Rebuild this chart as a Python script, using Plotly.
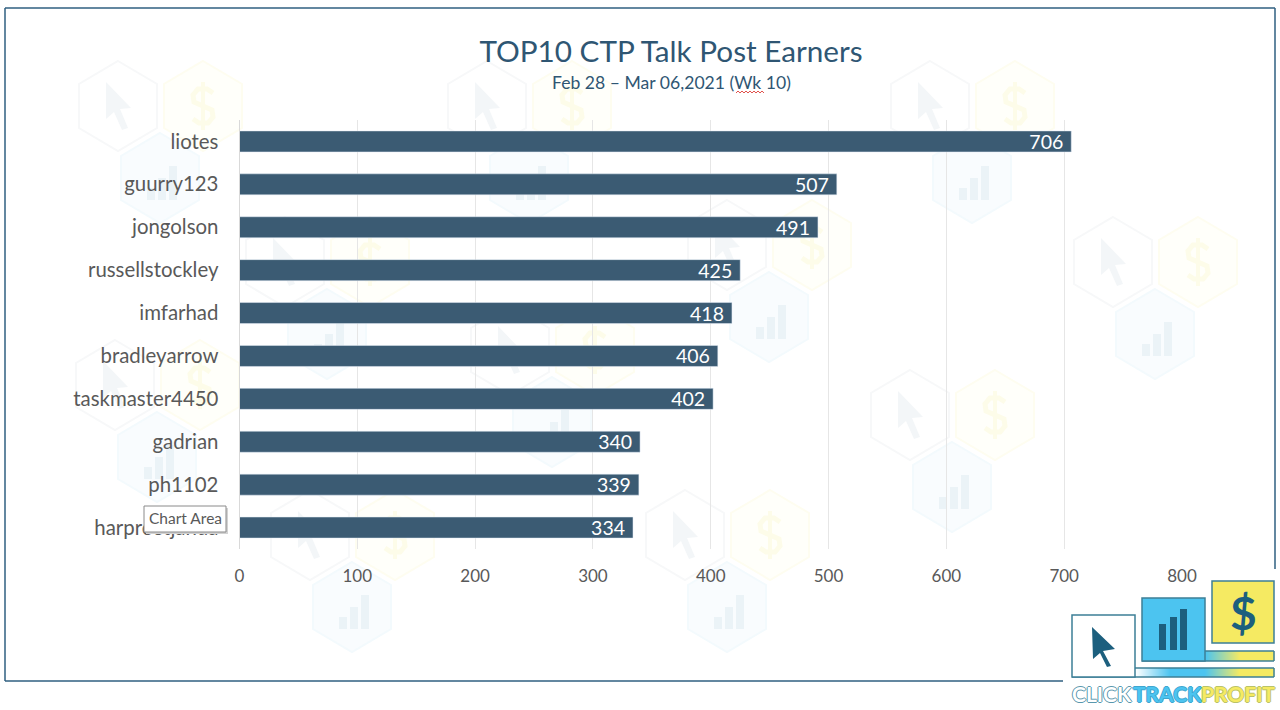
import plotly.graph_objects as go

# ---------------------------------------------------------------
# chart data
# ---------------------------------------------------------------
names = ['liotes', 'guurry123', 'jongolson', 'russellstockley', 'imfarhad',
         'bradleyarrow', 'taskmaster4450', 'gadrian', 'ph1102', 'harpreetjanda']
posts = [706, 507, 491, 425, 418, 406, 402, 340, 339, 334]
x_ticks = [0, 100, 200, 300, 400, 500, 600, 700, 800]

TITLE = 'TOP10 CTP Talk Post Earners'
SUBTITLE = 'Feb 28 – Mar 06,2021 (Wk 10)'

W, H = 1280, 710
FONT = 'Lato'
BAR_COLOR = '#3b5b73'
TITLE_COLOR = '#2f5673'
TEXT_COLOR = '#595959'
FRAME_COLOR = '#2f5f80'
LOGO_LINE = '#3d7f96'
LOGO_DARK = '#1c5f7e'
LOGO_BLUE = '#4cc4f0'
LOGO_YELLOW = '#f5ea62'

# centres of the faint watermark groups (cursor hexagon)
WATERMARKS = [(118, 106), (487, 106), (930, 106), (285, 262), (727, 245),
              (1113, 262), (510, 350), (115, 385), (910, 415), (310, 535),
              (685, 535)]


def px(x):
  return x / W


def py(y):
  return 1 - y / H


def open_path(points):
  return 'M ' + ' L '.join(f'{px(x):.5f},{py(y):.5f}' for x, y in points)


def poly(points, fill, line=None, width=0, layer='above'):
  return dict(type='path', xref='paper', yref='paper', path=open_path(points) + ' Z',
              fillcolor=fill, line=dict(color=line or fill, width=width), layer=layer)


def stroke(points, color, width, layer='above'):
  return dict(type='path', xref='paper', yref='paper', path=open_path(points),
              line=dict(color=color, width=width), layer=layer)


def box(x0, y0, x1, y1, fill, line=None, width=0, layer='above'):
  return dict(type='rect', xref='paper', yref='paper', x0=px(x0), x1=px(x1),
              y0=py(y0), y1=py(y1), fillcolor=fill,
              line=dict(color=line or fill, width=width), layer=layer)


def seg(x0, y0, x1, y1, color, width):
  return dict(type='line', xref='paper', yref='paper', x0=px(x0), x1=px(x1),
              y0=py(y0), y1=py(y1), line=dict(color=color, width=width))


def hexagon(cx, cy, fill, line):
  pts = [(cx, cy - 45), (cx + 39, cy - 22), (cx + 39, cy + 22),
         (cx, cy + 45), (cx - 39, cy + 22), (cx - 39, cy - 22)]
  return poly(pts, fill, line, 2, 'below')


def mix(c0, c1, t):
  a = [int(c0[i:i + 2], 16) for i in (1, 3, 5)]
  b = [int(c1[i:i + 2], 16) for i in (1, 3, 5)]
  return '#' + ''.join(f'{round(p + (q - p) * t):02x}' for p, q in zip(a, b))


def gradient(x0, x1, y0, y1, stops):
  # plotly shapes have no gradient fill, so stack thin slices
  out = []
  n = int(x1 - x0)
  for i in range(n):
    t = i / n * (len(stops) - 1)
    k = min(int(t), len(stops) - 2)
    out.append(box(x0 + i, y0, x0 + i + 1.3, y1, mix(stops[k], stops[k + 1], t - k)))
  return out


shapes = []

# ---------------------------------------------------------------
# watermark
# ---------------------------------------------------------------
for cx, cy in WATERMARKS:
  shapes.append(hexagon(cx, cy, '#ffffff', '#f7f8f9'))
  shapes.append(poly([(cx - 12, cy - 24), (cx + 13, cy + 2), (cx + 2, cy + 3),
                      (cx + 10, cy + 22), (cx + 4, cy + 24), (cx - 4, cy + 6),
                      (cx - 12, cy + 13)], '#f3f6f8', layer='below'))
  shapes.append(hexagon(cx + 85, cy, '#fffffa', '#fefdf0'))
  d = cx + 85
  shapes.append(stroke([(d + 10, cy - 13), (d + 4, cy - 17), (d - 5, cy - 17), (d - 10, cy - 11),
                        (d - 9, cy - 4), (d + 9, cy + 4), (d + 10, cy + 11), (d + 5, cy + 17),
                        (d - 4, cy + 17), (d - 10, cy + 13)], '#fdfce9', 5, 'below'))
  shapes.append(seg(d, cy - 24, d, cy + 24, '#fdfce9', 4) | {'layer': 'below'})
  shapes.append(hexagon(cx + 42, cy + 72, '#f9fcfe', '#f3fafd'))
  for dx, top in ((-13, 10), (-2, 0), (9, -12)):
    shapes.append(box(cx + 42 + dx, cy + 72 + top, cx + 42 + dx + 8, cy + 72 + 22,
                      '#ebf3f7', layer='below'))

# ---------------------------------------------------------------
# slide frame
# ---------------------------------------------------------------
shapes += [seg(5, 8, 1275, 8, FRAME_COLOR, 1.5), seg(5, 8, 5, 681, FRAME_COLOR, 1.5),
           seg(5, 681, 1063, 681, FRAME_COLOR, 1.5), seg(1275, 8, 1275, 569, FRAME_COLOR, 1.5)]

# ---------------------------------------------------------------
# logo
# ---------------------------------------------------------------
shapes += gradient(1135, 1274, 668, 677, ['#ffffff', LOGO_BLUE, LOGO_BLUE, LOGO_YELLOW, LOGO_YELLOW])
shapes += gradient(1205, 1274, 651, 661, [LOGO_BLUE, LOGO_YELLOW, LOGO_YELLOW])
shapes += [seg(1135, 668, 1274, 668, LOGO_LINE, 1.5), seg(1072, 677, 1274, 677, LOGO_LINE, 1.5),
           seg(1274, 668, 1274, 677, LOGO_LINE, 1.5), seg(1205, 651, 1274, 651, LOGO_LINE, 1.5),
           seg(1142, 661, 1274, 661, LOGO_LINE, 1.5), seg(1274, 651, 1274, 661, LOGO_LINE, 1.5)]
shapes.append(box(1072, 615, 1135, 677, '#ffffff', LOGO_LINE, 1.5))
shapes.append(box(1142, 598, 1205, 661, LOGO_BLUE, LOGO_LINE, 1.5))
shapes.append(box(1212, 581, 1274, 643, LOGO_YELLOW, LOGO_LINE, 1.5))
shapes.append(poly([(1092, 627), (1115, 649), (1103, 651), (1111, 666), (1107, 667),
                    (1100, 653), (1093, 659)], LOGO_DARK))
for x0, x1, y0 in ((1159, 1166, 624), (1170, 1177, 617), (1180, 1187, 609)):
  shapes.append(box(x0, y0, x1, 650, LOGO_DARK))

# ---------------------------------------------------------------
# tooltip and spell check squiggle
# ---------------------------------------------------------------
shapes.append(box(146, 508, 228, 534, '#d2d2d2'))
shapes.append(box(144, 506, 226, 532, '#ffffff', '#8a8a8a', 1))
zig = [(736 + i * 2, 91 if i % 2 else 93) for i in range(15)]
shapes.append(stroke(zig, '#e0524d', 1))


def label(text, x, y, size, color, **kw):
  return dict(text=text, x=px(x), y=py(y), xref='paper', yref='paper', showarrow=False,
              xanchor=kw.pop('xanchor', 'center'), yanchor='middle',
              font=dict(family=FONT, size=size, color=color, **kw))


OUTLINE = '-1px 0 0 {0}, 1px 0 0 {0}, 0 -1px 0 {0}, 0 1px 0 {0}'
annotations = [
  label(SUBTITLE, 671, 83, 17.6, TITLE_COLOR),
  label('Chart Area', 185, 518, 15.5, TEXT_COLOR),
  label('<b>$</b>', 1243, 612, 46, LOGO_DARK),
  label('<b>CLICK</b>', 1070, 693, 21, '#ffffff', xanchor='left', shadow=OUTLINE.format('#5a97ad')),
  label('<b>TRACK</b>', 1131, 693, 21, LOGO_BLUE, xanchor='left', shadow=OUTLINE.format('#3fa6cf')),
  label('<b>PROFIT</b>', 1199, 693, 21, LOGO_YELLOW, xanchor='left', shadow=OUTLINE.format('#b9c26a')),
]

# ---------------------------------------------------------------
# configure the figure
# ---------------------------------------------------------------
fig = go.Figure(
  go.Bar(x=posts, y=names, orientation='h', marker_color=BAR_COLOR, width=0.49,
         texttemplate='%{x}\u00a0', textposition='inside', insidetextanchor='end',
         textangle=0, constraintext='none',
         insidetextfont=dict(family=FONT, size=19.5, color='#ffffff'))
)

fig.update_layout(
  width=W, height=H, autosize=False, showlegend=False,
  paper_bgcolor='#ffffff', plot_bgcolor='rgba(0,0,0,0)',
  margin=dict(l=0, r=0, t=0, b=0, autoexpand=False),
  title=dict(text=TITLE, x=671 / W, xanchor='center', y=py(52), yanchor='middle',
             font=dict(family=FONT, size=29.7, color=TITLE_COLOR)),
  shapes=shapes, annotations=annotations,
)
fig.update_xaxes(domain=[px(239.5), px(1182)], range=[0, 800], tickvals=x_ticks,
                 showgrid=True, gridcolor='#e6e6e6', gridwidth=1, zeroline=False,
                 showline=False, ticks='', ticklabelstandoff=15,
                 tickfont=dict(family=FONT, size=17, color=TEXT_COLOR))
fig.update_yaxes(domain=[py(549), py(120)], range=[9.5, -0.5], type='category',
                 showgrid=False, zeroline=False, showline=True, linecolor='#d9d9d9',
                 ticks='', ticklabelstandoff=16,
                 tickfont=dict(family=FONT, size=20.4, color=TEXT_COLOR))

# the page's default body margin would shift the figure by 8px
fig.write_html('out.html', config={'displayModeBar': False},
               post_script="document.body.style.margin = '0';")
